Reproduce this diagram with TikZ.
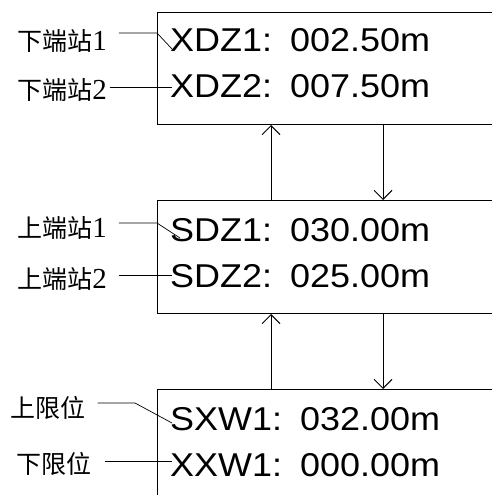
\documentclass[tikz,border=0pt]{standalone}
\usepackage{fontspec}
\setmainfont{Liberation Sans}
\newfontfamily\cjk{Noto Sans CJK SC}
\newfontfamily\numfont{Liberation Serif}
\usetikzlibrary{arrows.meta,positioning}
\newcommand\valfont{\fontsize{33}{38}\selectfont}
\newcommand\lblfont{\fontsize{25}{29}\selectfont}
\newcommand\lblnum[1]{{\numfont\fontsize{29}{31}\selectfont #1}}
\newcommand\gap{\hspace{0.5em}}
\tikzset{
	panel/.style={draw, line width=1pt, anchor=north west, inner sep=0pt, minimum width=400pt},
	val/.style={font=\valfont, anchor=base west, inner sep=0pt, xscale=1.09},
	lbl/.style={font=\lblfont, inner sep=0pt},
	lead/.style={line width=0.7pt},
	flow/.style={line width=1pt, -{Straight Barb[length=9pt,width=18pt,line width=1pt]}},
}

\begin{document}
\begin{tikzpicture}[x=1pt, y=-1pt]
		\useasboundingbox (0,0) rectangle (492,495);
		\clip (0,0) rectangle (492,495);
		% panels
		\node [panel, minimum height=112pt] (xdz) at (157,12) {};
		\node [panel, minimum height=113pt] (sdz) at (157,200) {};
		\node [panel, minimum height=130pt] (sxw) at (157,389) {};
		% values
		\node [val] (xdz1) at (170,52) {XDZ1:\gap 002.50m};
		\node [val] (xdz2) at (170,97) {XDZ2:\gap 007.50m};
		\node [val] (sdz1) at (170,241) {SDZ1:\gap 030.00m};
		\node [val] (sdz2) at (170,287) {SDZ2:\gap 025.00m};
		\node [val] (sxw1) at (170,430) {SXW1:\gap 032.00m};
		\node [val] (xxw1) at (170,476) {XXW1:\gap 000.00m};
		% labels
		\node [lbl] (lxdz1) at (62,41) {\cjk 下端站\lblnum{1}};
		\node [lbl] (lxdz2) at (62,90) {\cjk 下端站\lblnum{2}};
		\node [lbl] (lsdz1) at (62,228) {\cjk 上端站\lblnum{1}};
		\node [lbl] (lsdz2) at (62,279) {\cjk 上端站\lblnum{2}};
		\node [lbl] (lsxw1) at (48,408) {\cjk 上限位};
		\node [lbl] (lxxw1) at (54,464) {\cjk 下限位};
		% leader points
		\coordinate (kxdz1) at (157,33);
		\coordinate (exdz1) at (172,49);
		\coordinate (exdz2) at (172,87);
		\coordinate (ksdz1) at (157,223);
		\coordinate (esdz1) at (180,238);
		\coordinate (esdz2) at (172,275);
		\coordinate (ksxw1) at (135,403);
		\coordinate (esxw1) at (172,423);
		\coordinate (exxw1) at (172,461);
		\draw [lead] (lxdz1.east |- kxdz1) ++(12,0) -- (kxdz1) -- (exdz1);
		\draw [lead] (lxdz2.east |- exdz2) ++(3,0) -- (exdz2);
		\draw [lead] (lsdz1.east |- ksdz1) ++(12,0) -- (ksdz1) -- (esdz1);
		\draw [lead] (lsdz2.east |- esdz2) ++(12,0) -- (esdz2);
		\draw [lead] (lsxw1.east |- ksxw1) ++(12,0) -- (ksxw1) -- (esxw1);
		\draw [lead] (lxxw1.east |- exxw1) ++(13,0) -- (exxw1);
		% arrows between panels
		\coordinate (upx) at (271,0);
		\coordinate (dnx) at (383,0);
		\draw [flow] (sdz.north -| upx) -- (xdz.south -| upx);
		\draw [flow] (xdz.south -| dnx) -- (sdz.north -| dnx);
		\draw [flow] (sxw.north -| upx) -- (sdz.south -| upx);
		\draw [flow] (sdz.south -| dnx) -- (sxw.north -| dnx);
	\end{tikzpicture}
\end{document}
